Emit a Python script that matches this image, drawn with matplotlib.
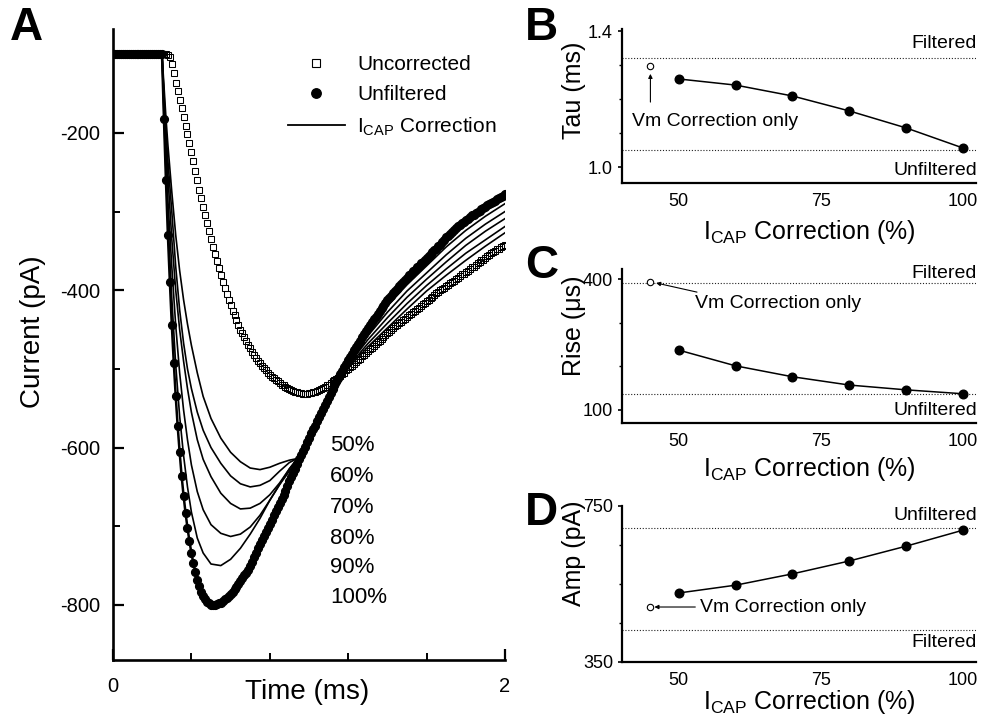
import numpy as np
import matplotlib
matplotlib.use("Agg")
import matplotlib.pyplot as plt
from matplotlib.lines import Line2D

plt.rcParams['font.family'] = ['Liberation Sans', 'DejaVu Sans']
plt.rcParams['mathtext.fontset'] = 'custom'
plt.rcParams['mathtext.rm'] = 'Liberation Sans'
plt.rcParams['mathtext.it'] = 'Liberation Sans:italic'
plt.rcParams['axes.unicode_minus'] = False

# ---------------- Panel A data (pA), sampled every 0.01 ms ----------------
time_ms = np.round(np.arange(201) * 0.01, 2)

unfiltered = [
    -100, -100, -100, -100, -100, -100, -100, -100, -100, -100,
    -100, -100, -100, -100, -100, -100, -100, -100, -100, -100,
    -100, -100, -100, -100, -100, -100,
    -183, -260, -330, -389,
    -444, -492, -535, -573, -606, -636, -661, -683, -702, -719,
    -734, -747, -758, -768, -776, -783, -789, -793, -796, -798,
    -800, -800, -800, -799, -798, -797, -795, -793, -791, -789,
    -786, -783, -780, -777, -774, -770, -766, -762, -759, -755,
    -750, -745, -739, -734, -728, -723, -718, -713, -707, -702,
    -697, -692, -686, -681, -676, -671, -666, -660, -655, -649,
    -643, -638, -632, -627, -621, -615, -610, -604, -599, -593,
    -588, -582, -577, -572, -566, -561, -556, -551, -546, -541,
    -536, -531, -526, -521, -516, -511, -507, -503, -498, -494,
    -489, -485, -481, -476, -472, -468, -464, -460, -456, -452,
    -448, -444, -441, -437, -434, -430, -427, -423, -420, -416,
    -413, -410, -407, -404, -401, -398, -395, -392, -390, -387,
    -384, -381, -379, -376, -374, -371, -369, -366, -364, -361,
    -359, -357, -354, -352, -349, -347, -344, -342, -339, -336,
    -333, -331, -328, -326, -323, -321, -319, -317, -315, -313,
    -311, -309, -307, -305, -304, -302, -300, -299, -297, -296,
    -294, -292, -291, -289, -288, -286, -284, -283, -281, -280,
    -278,
]

uncorrected = [
    -100, -100, -100, -100, -100, -100, -100, -100, -100, -100,
    -100, -100, -100, -100, -100, -100, -100, -100, -100, -100,
    -100, -100, -100, -100, -100, -100, -100, -100,
    -101, -104,
    -113, -124, -136, -147, -158, -169, -180, -191, -202, -213,
    -224, -236, -248, -260, -272, -283, -294, -305, -315, -325,
    -335, -345, -354, -363, -372, -381, -389, -397, -405, -412,
    -419, -426, -432, -438, -444, -450, -455, -460, -465, -470,
    -474, -478, -482, -486, -490, -493, -496, -499, -502, -505,
    -508, -510, -512, -514, -516, -518, -520, -521, -523, -524,
    -526, -527, -528, -529, -530, -531, -531, -532, -532, -532,
    -531, -531, -530, -529, -528, -527, -526, -524, -523, -521,
    -520, -518, -516, -514, -513, -511, -509, -507, -505, -502,
    -500, -498, -496, -494, -491, -489, -487, -484, -482, -480,
    -477, -475, -473, -471, -468, -466, -464, -462, -459, -457,
    -455, -453, -451, -448, -446, -444, -442, -440, -438, -436,
    -434, -432, -430, -428, -426, -424, -422, -420, -418, -416,
    -414, -412, -410, -408, -406, -404, -402, -400, -398, -397,
    -395, -393, -391, -389, -388, -386, -384, -382, -380, -379,
    -377, -375, -373, -371, -370, -368, -366, -364, -362, -361,
    -359, -357, -355, -353, -352, -350, -348, -347, -345, -344,
    -342,
]

corr_time = [0.0, 0.25, 0.26, 0.27, 0.28, 0.30, 0.32, 0.34, 0.36, 0.38, 0.40,
             0.43, 0.46, 0.50, 0.55, 0.60, 0.65, 0.70, 0.75, 0.80, 0.85, 0.90,
             0.94, 1.00, 1.05, 1.10, 1.15, 1.20, 1.30, 1.40, 1.50, 1.60, 1.70,
             1.80, 1.90, 2.00]
corr_50 = [-100, -100, -140, -180, -215, -275, -330, -375, -412, -443, -470,
           -505, -535, -563, -588, -606, -618, -626, -628, -625, -620, -616,
           -614, -596, -570, -545, -522, -499, -472, -448, -424, -401, -381,
           -362, -344, -327]
corr_60 = [-100, -100, -150, -195, -235, -300, -370, -425, -467, -500, -525,
           -555, -578, -600, -620, -636, -646, -650, -648, -642, -630, -619,
           -614, -595, -569, -544, -520, -497, -468, -442, -417, -394, -373,
           -353, -336, -319]
corr_70 = [-100, -100, -160, -210, -255, -335, -400, -450, -490, -525, -555,
           -590, -615, -637, -658, -671, -678, -677, -671, -660, -645, -627,
           -614, -594, -568, -543, -518, -495, -463, -435, -409, -386, -364,
           -343, -325, -309]
corr_80 = [-100, -100, -170, -230, -285, -370, -445, -505, -552, -590, -622,
           -656, -679, -698, -709, -713, -710, -701, -686, -667, -647, -627,
           -615, -593, -566, -541, -516, -493, -458, -428, -401, -378, -355,
           -334, -316, -300]
corr_90 = [-100, -100, -178, -248, -310, -410, -495, -560, -610, -650, -682,
           -715, -734, -748, -750, -742, -728, -710, -690, -667, -647, -630,
           -617, -591, -564, -539, -514, -491, -453, -420, -393, -369, -345,
           -324, -306, -290]
pct_labels = ['50%', '60%', '70%', '80%', '90%', '100%']

# ---------------- Panels B-D data ----------------
correction_pct = [50, 60, 70, 80, 90, 100]
vm_only_x = 45

tau_ms = [1.259, 1.241, 1.209, 1.165, 1.115, 1.056]
tau_vm_only = 1.297
tau_filtered = 1.32
tau_unfiltered = 1.05

rise_us = [237, 201, 176, 157, 146, 137]
rise_vm_only = 393
rise_filtered = 391
rise_unfiltered = 137

amp_pA = [527, 547, 576, 609, 647, 688]
amp_vm_only = 491
amp_filtered = 432
amp_unfiltered = 694

W, H = 983, 726
fig = plt.figure(figsize=(W / 100, H / 100), dpi=100)


def rect(l, t, r, b):
    return [l / W, 1 - b / H, (r - l) / W, (b - t) / H]


# ================= Panel A =================
axA = fig.add_axes(rect(113, 29, 505, 660))
for vals in [corr_50, corr_60, corr_70, corr_80, corr_90]:
    axA.plot(corr_time, vals, color='black', lw=1.2, zorder=3)
axA.plot(time_ms, unfiltered, color='black', lw=1.8, zorder=3)
axA.plot(time_ms, uncorrected, ls='none', marker='s', ms=5.0, mfc='none',
         mec='black', mew=0.75, zorder=4)
axA.plot(time_ms, unfiltered, ls='none', marker='o', ms=5.6, color='black',
         zorder=5)

axA.set_xlim(0, 2)
axA.set_ylim(-870, -68)
axA.set_xticks([0, 2])
axA.set_xticks([0.4, 0.8, 1.2, 1.6], minor=True)
axA.set_xticklabels(['0', '2'])
axA.set_yticks([-200, -400, -600, -800])
axA.set_yticks([-300, -500, -700], minor=True)
for s in ['top', 'right']:
    axA.spines[s].set_visible(False)
for s in ['left', 'bottom']:
    axA.spines[s].set_linewidth(1.9)
axA.tick_params(which='major', direction='in', length=8, width=1.6,
                labelsize=14.5)
axA.tick_params(which='minor', direction='in', length=5, width=1.4)
axA.tick_params(axis='y', which='major', pad=9)
axA.tick_params(axis='x', which='major', pad=12)
axA.set_xlabel('Time (ms)', fontsize=20)
axA.xaxis.set_label_coords(0.495, -0.03)
axA.set_ylabel('Current (pA)', fontsize=20)
axA.yaxis.set_label_coords(-0.17, 0.52)

pct_y = [-598, -637, -676, -715, -753, -791]
for lab, yv in zip(pct_labels, pct_y):
    axA.text(1.107, yv, lab, fontsize=16, ha='left', va='center')

handles = [
    Line2D([], [], ls='none', marker='s', ms=6.2, mfc='none', mec='black',
           mew=0.8),
    Line2D([], [], ls='none', marker='o', ms=6.8, color='black'),
    Line2D([], [], color='black', lw=1.3),
]
labels = ['Uncorrected', 'Unfiltered', r'I$_{\mathrm{CAP}}$ Correction']
axA.legend(handles, labels, loc='upper left', bbox_to_anchor=(0.446, 0.959),
           frameon=False, fontsize=15, handlelength=2.74, handletextpad=0.6,
           labelspacing=0.55, borderpad=0, borderaxespad=0)

fig.text(10 / W, 1 - 28 / H, 'A', fontsize=33, fontweight='bold',
         ha='left', va='center')


# ================= Panels B-D =================
def small_panel(r, yvals, vm_val, filt_val, unfilt_val, ylim, yticks, yminor,
                ylabel, ylabel_y, xlabel_y, top_text, top_y, bot_text, bot_y):
    ax = fig.add_axes(r)
    ax.axhline(filt_val, color='#222222', lw=0.8, ls=(0, (1, 1.6)), zorder=1)
    ax.axhline(unfilt_val, color='#222222', lw=0.8, ls=(0, (1, 1.6)), zorder=1)
    ax.plot(correction_pct, yvals, color='black', lw=1.1, marker='o', ms=6.2,
            zorder=3)
    ax.plot([vm_only_x], [vm_val], ls='none', marker='o', ms=4.6,
            mfc='white', mec='black', mew=0.8, zorder=3)
    ax.set_xlim(40, 102.3)
    ax.set_ylim(*ylim)
    ax.set_xticks([50, 75, 100])
    ax.set_yticks(yticks)
    ax.set_yticks(yminor, minor=True)
    for s in ['top', 'right']:
        ax.spines[s].set_visible(False)
    for s in ['left', 'bottom']:
        ax.spines[s].set_linewidth(1.6)
    ax.tick_params(axis='y', which='major', direction='out', length=3,
                   width=1.2, labelsize=13, pad=3.5)
    ax.tick_params(axis='y', which='minor', direction='out', length=2.2,
                   width=1.0)
    ax.tick_params(axis='x', which='major', direction='in', length=0,
                   labelsize=13, pad=7)
    ax.set_ylabel(ylabel, fontsize=18)
    ax.yaxis.set_label_coords(-0.102, ylabel_y)
    ax.set_xlabel(r'I$_{\mathrm{CAP}}$ Correction (%)', fontsize=18)
    ax.xaxis.set_label_coords(0.528, xlabel_y)
    ax.text(1.003, top_y, top_text, transform=ax.transAxes, fontsize=14,
            ha='right', va='center')
    ax.text(1.003, bot_y, bot_text, transform=ax.transAxes, fontsize=14,
            ha='right', va='center')
    return ax


axB = small_panel(rect(622, 29, 976, 183), tau_ms, tau_vm_only, tau_filtered,
                  tau_unfiltered, (0.953, 1.406), [1.0, 1.4], [1.1, 1.2, 1.3],
                  'Tau (ms)', 0.60, -0.227, 'Filtered', 0.903, 'Unfiltered',
                  0.084)
axB.set_yticklabels(['1.0', '1.4'])
axB.annotate('', xy=(vm_only_x, 1.274), xytext=(vm_only_x, 1.191),
             arrowprops=dict(arrowstyle='-|>', lw=0.8, color='black',
                             mutation_scale=6, shrinkA=0, shrinkB=0))
axB.text(41.8, 1.135, 'Vm Correction only', fontsize=14, ha='left',
         va='center')

axC = small_panel(rect(622, 269, 976, 423), rise_us, rise_vm_only,
                  rise_filtered, rise_unfiltered, (70, 423), [100, 400],
                  [200, 300], 'Rise (\u03bcs)', 0.63, -0.208, 'Filtered',
                  0.974, 'Unfiltered', 0.078)
axC.annotate('', xy=(46.0, 391), xytext=(53.2, 370),
             arrowprops=dict(arrowstyle='-|>', lw=0.8, color='black',
                             mutation_scale=6, shrinkA=0, shrinkB=0))
axC.text(52.9, 345, 'Vm Correction only', fontsize=14, ha='left',
         va='center')

axD = small_panel(rect(622, 506, 976, 662), amp_pA, amp_vm_only, amp_filtered,
                  amp_unfiltered, (350, 750), [350, 750], [450, 550, 650],
                  'Amp (pA)', 0.70, -0.165, 'Unfiltered', 0.942, 'Filtered',
                  0.122)
axD.annotate('', xy=(45.7, amp_vm_only), xytext=(52.9, amp_vm_only),
             arrowprops=dict(arrowstyle='-|>', lw=0.8, color='black',
                             mutation_scale=6, shrinkA=0, shrinkB=0))
axD.text(53.7, amp_vm_only, 'Vm Correction only', fontsize=14, ha='left',
         va='center')

fig.text(525 / W, 1 - 28 / H, 'B', fontsize=33, fontweight='bold',
         ha='left', va='center')
fig.text(525 / W, 1 - 266 / H, 'C', fontsize=33, fontweight='bold',
         ha='left', va='center')
fig.text(525 / W, 1 - 513 / H, 'D', fontsize=33, fontweight='bold',
         ha='left', va='center')

fig.savefig('out.png', dpi=100)
